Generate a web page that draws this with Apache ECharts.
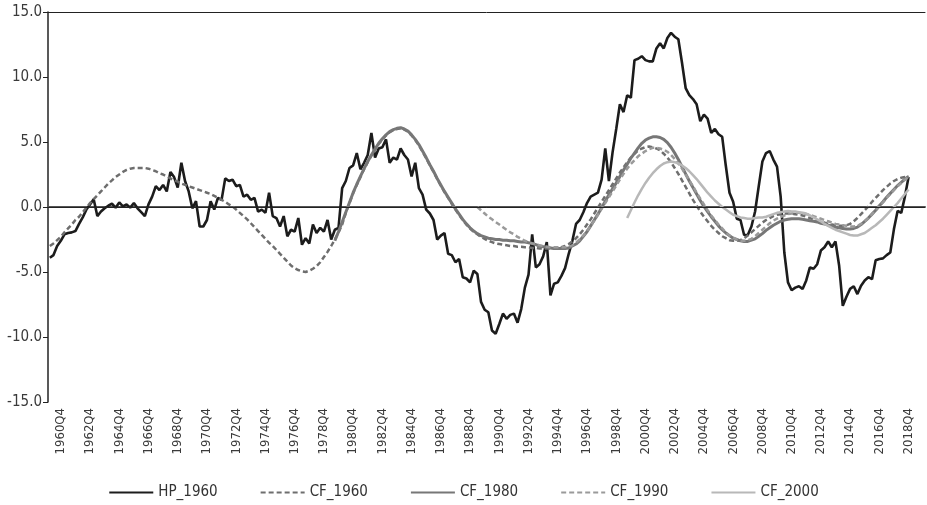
<!DOCTYPE html>
<html>
<head>
<meta charset="utf-8">
<title>HP_1960 vs CF</title>
<script src="https://cdn.jsdelivr.net/npm/echarts@6/dist/echarts.min.js"></script>
<style>
  html, body { margin: 0; padding: 0; background: #fff; }
  #chart { width: 927px; height: 505px; }
</style>
</head>
<body>
<div id="chart"></div>
<script>
// quarters 1960Q1 .. 2019Q4 (2019 only pads the axis to the right edge)
const firstYear = 1960, lastYear = 2019;
const quarters = [];
for (let y = firstYear; y <= lastYear; y++) {
  for (let q = 1; q <= 4; q++) quarters.push(y + 'Q' + q);
}

// HP_1960, 1960Q1..2018Q4
const hp1960 = [
  -3.9, -3.7, -3.0, -2.6, -2.1, -2.0, -1.95, -1.85, -1.3, -0.8,
  -0.2, 0.2, 0.6, -0.7, -0.35, -0.1, 0.1, 0.25, -0.05, 0.35,
  0.05, 0.2, -0.05, 0.3, -0.1, -0.4, -0.7, 0.2, 0.8, 1.6,
  1.3, 1.7, 1.2, 2.7, 2.3, 1.5, 3.4, 2.0, 1.2, -0.1,
  0.45, -1.5, -1.5, -1.0, 0.45, -0.2, 0.7, 0.55, 2.2, 2.0,
  2.1, 1.6, 1.7, 0.8, 0.95, 0.55, 0.7, -0.35, -0.2, -0.45,
  1.1, -0.7, -0.85, -1.5, -0.7, -2.25, -1.75, -1.9, -0.85, -2.9,
  -2.4, -2.8, -1.35, -2.0, -1.6, -1.9, -1.0, -2.5, -1.75, -1.6,
  1.45, 2.0, 3.0, 3.2, 4.15, 2.9, 3.4, 4.0, 5.7, 3.8,
  4.5, 4.6, 5.2, 3.4, 3.8, 3.65, 4.5, 4.0, 3.65, 2.35,
  3.4, 1.45, 0.95, -0.2, -0.5, -1.0, -2.5, -2.2, -2.0, -3.6,
  -3.7, -4.25, -4.0, -5.4, -5.5, -5.8, -4.9, -5.15, -7.3, -7.9,
  -8.1, -9.5, -9.75, -9.0, -8.2, -8.6, -8.3, -8.2, -8.9, -7.85,
  -6.2, -5.2, -2.1, -4.65, -4.4, -3.8, -2.7, -6.8, -5.9, -5.8,
  -5.3, -4.7, -3.6, -2.6, -1.3, -1.0, -0.4, 0.3, 0.8, 0.95,
  1.1, 2.1, 4.5, 2.0, 4.2, 6.0, 7.9, 7.3, 8.6, 8.4,
  11.3, 11.4, 11.6, 11.3, 11.2, 11.2, 12.2, 12.6, 12.2, 13.0,
  13.4, 13.1, 12.9, 11.1, 9.15, 8.6, 8.3, 7.9, 6.6, 7.1,
  6.8, 5.7, 6.0, 5.6, 5.4, 3.15, 1.1, 0.4, -0.9, -1.0,
  -2.15, -2.15, -1.5, -0.35, 1.6, 3.5, 4.15, 4.3, 3.65, 3.1,
  0.8, -3.5, -5.8, -6.4, -6.2, -6.1, -6.3, -5.65, -4.65, -4.75,
  -4.4, -3.35, -3.1, -2.65, -3.1, -2.65, -4.5, -7.6, -6.9, -6.3,
  -6.1, -6.7, -6.05, -5.65, -5.4, -5.55, -4.1, -4.0, -3.95, -3.7,
  -3.5, -1.7, -0.3, -0.45, 0.8, 2.3
];

// CF_1960, 1960Q1..2018Q4
const cf1960 = [
  -3.0, -2.8, -2.55, -2.3, -1.95, -1.65, -1.35, -1.0, -0.75, -0.4,
  -0.05, 0.3, 0.6, 0.9, 1.2, 1.5, 1.8, 2.05, 2.3, 2.5,
  2.7, 2.85, 2.95, 3.0, 3.0, 3.0, 3.0, 2.95, 2.85, 2.75,
  2.6, 2.5, 2.35, 2.2, 2.05, 1.95, 1.8, 1.7, 1.6, 1.5,
  1.4, 1.3, 1.2, 1.1, 1.0, 0.85, 0.7, 0.55, 0.4, 0.2,
  0.05, -0.2, -0.45, -0.7, -0.95, -1.25, -1.55, -1.85, -2.15, -2.45,
  -2.75, -3.0, -3.3, -3.6, -3.9, -4.2, -4.5, -4.7, -4.85, -4.95,
  -5.0, -4.9, -4.75, -4.55, -4.25, -3.85, -3.45, -3.0, -2.5, -1.95,
  -1.35, -0.45, 0.3, 1.05, 1.7, 2.3, 2.9, 3.45, 3.95, 4.4,
  4.85, 5.2, 5.5, 5.75, 5.9, 6.0, 6.05, 5.95, 5.8, 5.5,
  5.15, 4.75, 4.25, 3.75, 3.2, 2.7, 2.15, 1.65, 1.15, 0.7,
  0.25, -0.2, -0.6, -1.0, -1.35, -1.65, -1.9, -2.1, -2.3, -2.45,
  -2.6, -2.7, -2.8, -2.85, -2.9, -2.95, -3.0, -3.0, -3.05, -3.05,
  -3.1, -3.1, -3.15, -3.15, -3.2, -3.2, -3.2, -3.2, -3.2, -3.15,
  -3.1, -3.0, -2.85, -2.65, -2.4, -2.1, -1.75, -1.35, -0.95, -0.5,
  -0.05, 0.4, 0.85, 1.3, 1.75, 2.2, 2.65, 3.05, 3.45, 3.8,
  4.1, 4.35, 4.5, 4.6, 4.65, 4.6, 4.5, 4.35, 4.1, 3.8,
  3.45, 3.0, 2.55, 2.05, 1.55, 1.05, 0.55, 0.1, -0.35, -0.75,
  -1.1, -1.45, -1.75, -2.0, -2.25, -2.4, -2.55, -2.6, -2.6, -2.55,
  -2.4, -2.2, -1.95, -1.7, -1.45, -1.2, -1.0, -0.85, -0.7, -0.6,
  -0.55, -0.5, -0.5, -0.5, -0.55, -0.6, -0.65, -0.75, -0.85, -0.95,
  -1.05, -1.15, -1.2, -1.3, -1.35, -1.4, -1.45, -1.45, -1.4, -1.3,
  -1.1, -0.85, -0.55, -0.25, 0.05, 0.4, 0.7, 1.0, 1.3, 1.55,
  1.8, 2.0, 2.15, 2.25, 2.3, 2.35
];

// CF_1980, starts 1979Q3
const cf1980Start = 78;
const cf1980 = [
  -2.6, -1.9, -1.15, -0.4, 0.35, 1.1, 1.75, 2.35, 2.95, 3.5,
  4.0, 4.45, 4.9, 5.25, 5.55, 5.8, 5.95, 6.05, 6.1, 6.0,
  5.85, 5.55, 5.2, 4.8, 4.3, 3.8, 3.25, 2.75, 2.2, 1.7,
  1.2, 0.75, 0.3, -0.15, -0.55, -0.95, -1.3, -1.6, -1.85, -2.05,
  -2.2, -2.3, -2.4, -2.45, -2.5, -2.5, -2.55, -2.55, -2.6, -2.6,
  -2.65, -2.7, -2.7, -2.75, -2.8, -2.9, -3.0, -3.05, -3.1, -3.15,
  -3.2, -3.2, -3.2, -3.2, -3.15, -3.0, -2.85, -2.6, -2.25, -1.9,
  -1.45, -1.0, -0.55, -0.05, 0.45, 0.95, 1.4, 1.85, 2.35, 2.85,
  3.3, 3.75, 4.15, 4.55, 4.9, 5.15, 5.3, 5.4, 5.4, 5.35,
  5.2, 4.95, 4.6, 4.15, 3.65, 3.1, 2.55, 2.0, 1.5, 1.0,
  0.5, 0.05, -0.35, -0.75, -1.1, -1.45, -1.75, -2.0, -2.2, -2.4,
  -2.5, -2.6, -2.65, -2.65, -2.55, -2.45, -2.25, -2.05, -1.8, -1.6,
  -1.4, -1.25, -1.1, -1.0, -0.95, -0.9, -0.9, -0.9, -0.95, -1.0,
  -1.05, -1.1, -1.15, -1.25, -1.3, -1.4, -1.45, -1.55, -1.6, -1.65,
  -1.7, -1.7, -1.65, -1.55, -1.35, -1.1, -0.85, -0.55, -0.25, 0.1,
  0.4, 0.75, 1.05, 1.35, 1.65, 1.9, 2.15, 2.35
];

// CF_1990, starts 1989Q2
const cf1990Start = 117;
const cf1990 = [
  0.0, -0.25, -0.5, -0.75, -0.95, -1.15, -1.35, -1.55, -1.75, -1.95,
  -2.1, -2.3, -2.45, -2.6, -2.7, -2.8, -2.85, -2.95, -3.0, -3.05,
  -3.1, -3.1, -3.1, -3.1, -3.1, -3.05, -2.95, -2.75, -2.5, -2.2,
  -1.85, -1.45, -1.05, -0.6, -0.15, 0.3, 0.75, 1.2, 1.65, 2.1,
  2.55, 2.95, 3.3, 3.6, 3.9, 4.1, 4.3, 4.45, 4.55, 4.55,
  4.5, 4.4, 4.25, 4.0, 3.7, 3.35, 2.95, 2.5, 2.05, 1.6,
  1.1, 0.65, 0.2, -0.25, -0.65, -1.0, -1.35, -1.65, -1.95, -2.2,
  -2.35, -2.5, -2.6, -2.6, -2.55, -2.45, -2.25, -2.0, -1.75, -1.5,
  -1.25, -1.05, -0.9, -0.75, -0.65, -0.55, -0.5, -0.45, -0.45, -0.5,
  -0.55, -0.6, -0.7, -0.8, -0.9, -1.0, -1.1, -1.2, -1.3, -1.35,
  -1.4, -1.45, -1.5, -1.5, -1.45, -1.3, -1.1, -0.85, -0.55, -0.25,
  0.05, 0.35, 0.7, 1.0, 1.3, 1.6, 1.85, 2.1, 2.3
];

// CF_2000, starts 1999Q3
const cf2000Start = 158;
const cf2000 = [
  -0.85, -0.25, 0.35, 0.9, 1.4, 1.85, 2.25, 2.6, 2.9, 3.15,
  3.35, 3.45, 3.5, 3.45, 3.35, 3.2, 3.0, 2.75, 2.45, 2.15,
  1.8, 1.45, 1.1, 0.8, 0.5, 0.25, 0.0, -0.2, -0.4, -0.6,
  -0.7, -0.8, -0.85, -0.9, -0.9, -0.85, -0.8, -0.8, -0.75, -0.65,
  -0.55, -0.45, -0.4, -0.35, -0.3, -0.35, -0.35, -0.4, -0.45, -0.5,
  -0.65, -0.8, -0.95, -1.1, -1.3, -1.45, -1.6, -1.75, -1.85, -1.95,
  -2.05, -2.15, -2.2, -2.2, -2.1, -2.0, -1.8, -1.6, -1.4, -1.15,
  -0.9, -0.6, -0.3, 0.0, 0.3, 0.65, 1.0, 1.35
];

// y axis ticks
const yMin = -15, yMax = 15, yStep = 5;

const pad = (start, arr) => new Array(start).fill(null).concat(arr);

const font = '"Liberation Sans Narrow", "DejaVu Sans Condensed", "Open Sans", sans-serif';
const dash = [5, 3];

const chart = echarts.init(document.getElementById('chart'));

chart.setOption({
  animation: false,
  backgroundColor: '#fff',
  textStyle: { fontFamily: font },
  grid: { left: 48, right: 2, top: 12, bottom: 103 },
  legend: {
    bottom: 0,
    left: 'center',
    itemWidth: 44,
    itemHeight: 10,
    itemGap: 42,
    itemStyle: { opacity: 0, borderWidth: 0 },
    textStyle: { fontFamily: font, fontSize: 15, color: '#333' },
    data: ['HP_1960', 'CF_1960', 'CF_1980', 'CF_1990', 'CF_2000']
  },
  xAxis: [
    {
      type: 'category',
      data: quarters,
      boundaryGap: true,
      axisLine: { lineStyle: { color: '#555', width: 2 } },
      axisTick: { show: false },
      axisLabel: {
        rotate: 90,
        interval: (i) => i % 8 === 3,
        fontFamily: font,
        fontSize: 13,
        color: '#3a3a3a',
        margin: 6
      },
      splitLine: { show: false }
    },
    {
      // top border line
      type: 'category',
      position: 'top',
      data: quarters,
      axisLine: { lineStyle: { color: '#222', width: 1 } },
      axisTick: { show: false },
      axisLabel: { show: false }
    }
  ],
  yAxis: {
    type: 'value',
    min: yMin,
    max: yMax,
    interval: yStep,
    axisLine: { show: true, lineStyle: { color: '#222', width: 1.5 } },
    axisTick: { show: true, length: 5, lineStyle: { color: '#222' } },
    axisLabel: {
      fontFamily: font,
      fontSize: 15,
      color: '#3a3a3a',
      margin: 6,
      formatter: (v) => v.toFixed(1)
    },
    splitLine: { show: false }
  },
  series: [
    {
      name: 'HP_1960',
      type: 'line',
      data: hp1960,
      symbol: 'none',
      lineStyle: { color: '#1c1c1c', width: 2.6 },
      itemStyle: { color: '#1c1c1c' },
      markLine: {
        silent: true,
        symbol: 'none',
        label: { show: false },
        lineStyle: { color: '#222', width: 1, type: 'solid' },
        data: [{ yAxis: 0 }]
      }
    },
    {
      name: 'CF_1960',
      type: 'line',
      data: cf1960,
      symbol: 'none',
      lineStyle: { color: '#6e6e6e', width: 2.5, type: dash },
      itemStyle: { color: '#6e6e6e' }
    },
    {
      name: 'CF_1980',
      type: 'line',
      data: pad(cf1980Start, cf1980),
      symbol: 'none',
      lineStyle: { color: '#777', width: 3 },
      itemStyle: { color: '#777' }
    },
    {
      name: 'CF_1990',
      type: 'line',
      data: pad(cf1990Start, cf1990),
      symbol: 'none',
      lineStyle: { color: '#9a9a9a', width: 2.5, type: dash },
      itemStyle: { color: '#9a9a9a' }
    },
    {
      name: 'CF_2000',
      type: 'line',
      data: pad(cf2000Start, cf2000),
      symbol: 'none',
      lineStyle: { color: '#b8b8b8', width: 2.5 },
      itemStyle: { color: '#b8b8b8' }
    }
  ]
});
</script>
</body>
</html>
